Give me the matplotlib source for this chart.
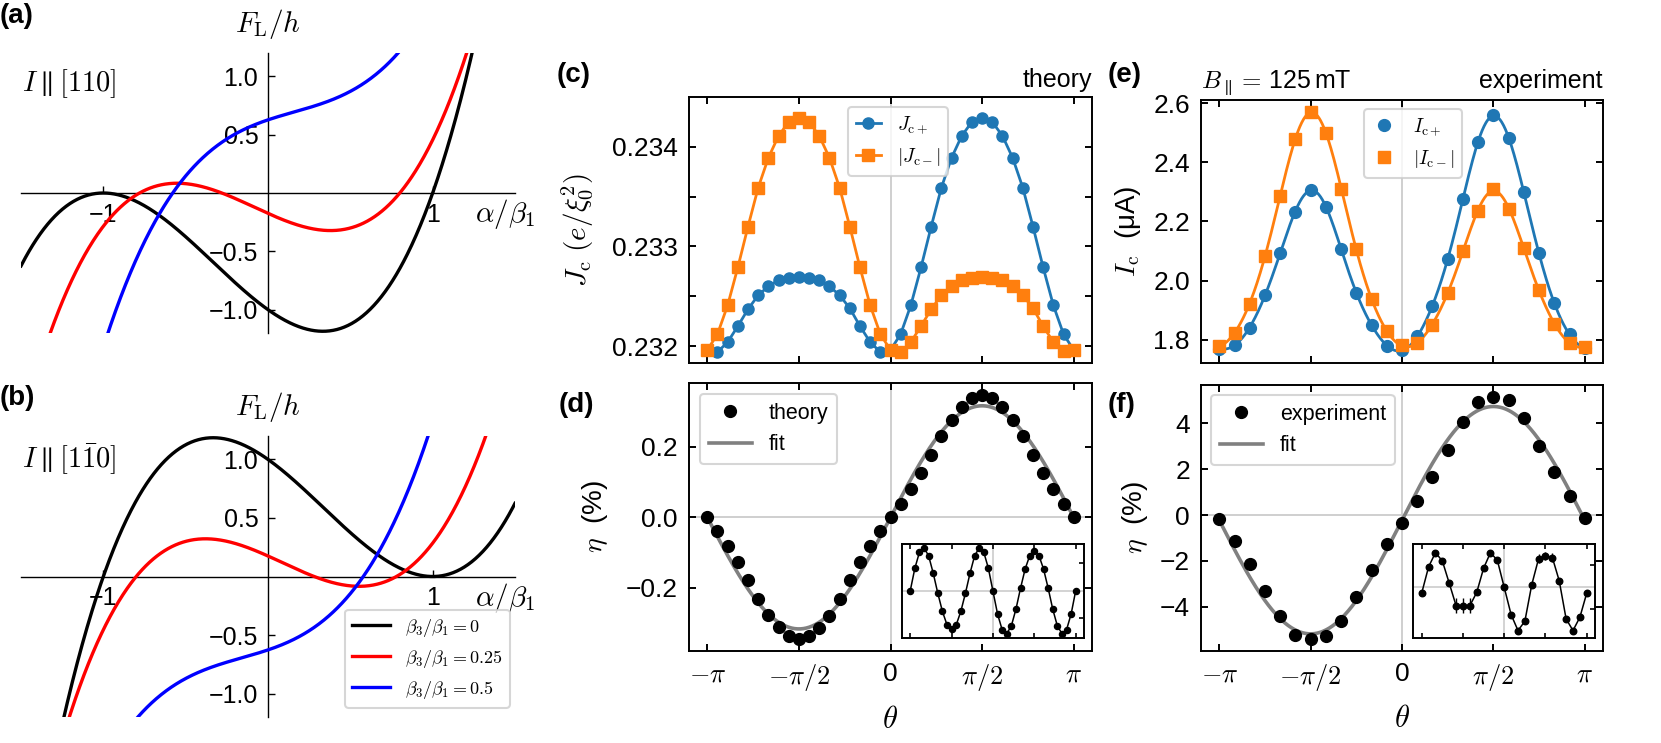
import numpy as np
import matplotlib
matplotlib.use("Agg")
import matplotlib.pyplot as plt
from matplotlib.lines import Line2D

plt.rcParams['font.family'] = ['Liberation Sans', 'DejaVu Sans']
plt.rcParams['mathtext.fontset'] = 'cm'
plt.rcParams['axes.unicode_minus'] = True

# ---------------- data ----------------
# (a),(b): Landau free energy curves, cubic coefficients [a3, a2, a1, a0] in alpha/beta1
ratio_labels = [r'$\beta_3/\beta_1=0$', r'$\beta_3/\beta_1=0.25$', r'$\beta_3/\beta_1=0.5$']
coef_a_black = [1.0, 1.0, -1.0, -1.0]
coef_a_red = [1.0, 0.26, -0.63, -0.175]
coef_a_blue = [1.0, -0.473, 0.475, 0.627]
coef_b_black = [1.0, -1.0, -1.0, 1.0]
coef_b_red = [1.0, -0.26, -0.63, 0.175]
coef_b_blue = [1.0, 0.473, 0.475, -0.627]

# (c),(d): theory, theta in degrees
theta_theory_deg = [-180, -170, -160, -150, -140, -130, -120, -110, -100, -90,
                    -80, -70, -60, -50, -40, -30, -20, -10, 0, 10, 20, 30, 40,
                    50, 60, 70, 80, 90, 100, 110, 120, 130, 140, 150, 160, 170, 180]
Jc_plus = [0.23196, 0.23194, 0.23204, 0.23220, 0.23237, 0.23251, 0.23260, 0.23266,
           0.23268, 0.23269, 0.23268, 0.23266, 0.23260, 0.23251, 0.23238, 0.23220,
           0.23204, 0.23194, 0.23196, 0.23212, 0.23241, 0.23279, 0.23320, 0.23359,
           0.23389, 0.23411, 0.23425, 0.23429, 0.23425, 0.23411, 0.23389, 0.23359,
           0.23320, 0.23279, 0.23241, 0.23212, 0.23196]
Jc_minus = [0.23196, 0.23212, 0.23241, 0.23279, 0.23320, 0.23359, 0.23389, 0.23411,
            0.23425, 0.23429, 0.23425, 0.23411, 0.23389, 0.23359, 0.23320, 0.23279,
            0.23241, 0.23212, 0.23196, 0.23194, 0.23204, 0.23220, 0.23237, 0.23251,
            0.23260, 0.23266, 0.23268, 0.23269, 0.23268, 0.23266, 0.23260, 0.23251,
            0.23238, 0.23220, 0.23204, 0.23195, 0.23196]
eta_theory = [0.000, -0.039, -0.080, -0.127, -0.178, -0.231, -0.277, -0.311, -0.337,
              -0.344, -0.337, -0.312, -0.278, -0.231, -0.177, -0.127, -0.080, -0.039,
              0.000, 0.038, 0.079, 0.125, 0.176, 0.229, 0.276, 0.313, 0.337, 0.346,
              0.337, 0.313, 0.276, 0.229, 0.176, 0.125, 0.079, 0.038, 0.000]
fit_theory = [0.316, 0.0]          # amplitude, offset of eta = A sin(theta) + c
resid_theory = [0.0, 0.0162, 0.0278, 0.0310, 0.0252, 0.0126, -0.0019, -0.0150, -0.0247,
                -0.0278, -0.0247, -0.0150, -0.0019, 0.0126, 0.0252, 0.0310, 0.0278,
                0.0162, -0.0005, -0.0169, -0.0283, -0.0310, -0.0254, -0.0133, 0.0019,
                0.0157, 0.0254, 0.0286, 0.0254, 0.0157, 0.0019, -0.0133, -0.0254,
                -0.0310, -0.0283, -0.0169, 0.0]

# (e),(f): experiment
theta_exp_deg = [-180, -165, -150, -135, -120, -105, -90, -75, -60, -45, -30, -15, 0,
                 15, 30, 45, 60, 75, 90, 105, 120, 135, 150, 165, 180]
Ic_plus = [1.770, 1.783, 1.839, 1.951, 2.093, 2.233, 2.307, 2.249, 2.107, 1.959, 1.850,
           1.779, 1.764, 1.811, 1.914, 2.073, 2.276, 2.468, 2.559, 2.483, 2.298, 2.092,
           1.923, 1.818, 1.772]
Ic_minus = [1.778, 1.823, 1.922, 2.083, 2.287, 2.478, 2.570, 2.500, 2.311, 2.107, 1.937,
            1.828, 1.781, 1.789, 1.851, 1.959, 2.100, 2.234, 2.309, 2.242, 2.109, 1.968,
            1.853, 1.789, 1.776]
eta_exp = [-0.15, -1.12, -2.15, -3.31, -4.42, -5.21, -5.40, -5.26, -4.63, -3.58, -2.38,
           -1.28, -0.36, 0.63, 1.65, 2.82, 4.06, 4.93, 5.15, 5.04, 4.23, 3.02, 1.90,
           0.83, -0.12]
fit_exp = [4.96, -0.22]
resid_exp = [-0.144, 0.455, 0.780, 0.591, 0.083, -0.432, -0.432, -0.432, -0.129, 0.424,
             0.780, 0.606, -0.015, -0.636, -1.000, -0.788, 0.045, 0.644, 0.705, 0.667,
             0.136, -0.735, -1.000, -0.697, -0.144]
resid_exp_err = [0, 0, 0, 0, 0, 0.17, 0.17, 0.17, 0, 0, 0, 0, 0, 0, 0, 0, 0, 0.10,
                 0.10, 0.10, 0, 0, 0, 0, 0]

pi_ticks_labels = [r'$-\pi$', r'$-\pi/2$', '0', r'$\pi/2$', r'$\pi$']

# ---------------- figure ----------------
W, H = 1661, 743
fig = plt.figure(figsize=(W / 100, H / 100), dpi=100)


def rect(l, t, r, b):
    return [l / W, 1 - b / H, (r - l) / W, (b - t) / H]


C_BLUE = '#1f77b4'
C_ORANGE = '#ff7f0e'
GRID = '#cccccc'
TICK_FS = 19


def landau(ax, coefs, ilabel):
    x = np.linspace(-1.5, 1.5, 800)
    for coef, col in zip(coefs, ['black', 'red', 'blue']):
        ax.plot(x, np.polyval(coef, x), color=col, lw=2.4, zorder=3)
    ax.set_xlim(-1.5, 1.5)
    ax.set_ylim(-1.2, 1.2)
    for s in ['top', 'right']:
        ax.spines[s].set_visible(False)
    for s in ['left', 'bottom']:
        ax.spines[s].set_position(('data', 0))
        ax.spines[s].set_linewidth(1.0)
    ax.set_xticks([-1, 1])
    ax.set_xticklabels(['\u22121', '1'])
    ax.set_yticks([-1, -0.5, 0.5, 1])
    ax.set_yticklabels(['\u22121.0', '\u22120.5', '0.5', '1.0'])
    ax.tick_params(direction='in', length=5, width=1.0, labelsize=18, pad=7)
    ax.patch.set_alpha(0)
    ax.text(0.5, 1.076, r'$F_\mathrm{L}/h$', transform=ax.transAxes, ha='center',
            va='baseline', fontsize=21)
    ax.text(1.255, -0.252, r'$\alpha/\beta_1$', ha='left', va='baseline', fontsize=21,
            clip_on=False)
    ax.text(0.0, 1.0, ilabel, transform=ax.transAxes, ha='left', va='top', fontsize=20.5)


axa = fig.add_axes(rect(21, 53, 515, 333))
landau(axa, [coef_a_black, coef_a_red, coef_a_blue], r'$I\parallel[110]$')
axa.texts[-1].set_position((0.002, 0.95))

axb = fig.add_axes(rect(21, 436, 515, 717))
landau(axb, [coef_b_black, coef_b_red, coef_b_blue], r'$I\parallel[1\bar{1}0]$')
axb.texts[-1].set_position((0.002, 0.98))
hb = [Line2D([], [], color=c, lw=2.4) for c in ['black', 'red', 'blue']]
leg = axb.legend(hb, ratio_labels, loc='lower left', bbox_to_anchor=(345 / W, 1 - 708 / H),
                 bbox_transform=fig.transFigure, borderaxespad=0, fontsize=13,
                 handlelength=2.1)
leg.get_frame().set_linewidth(1.5)


def box_style(ax):
    for s in ax.spines.values():
        s.set_linewidth(1.4)
    ax.tick_params(direction='in', top=True, right=True, length=5, width=1.4,
                   labelsize=TICK_FS, pad=8)
    ax.set_xticks([-np.pi, -np.pi / 2, 0, np.pi / 2, np.pi])


def fourier_curve(theta, y, nh=7, n=600):
    th = np.asarray(theta)[:-1]
    yy = np.asarray(y)[:-1]
    cols = [np.ones_like(th)]
    for k in range(1, nh + 1):
        cols += [np.cos(k * th), np.sin(k * th)]
    c, *_ = np.linalg.lstsq(np.column_stack(cols), yy, rcond=None)
    t = np.linspace(-np.pi, np.pi, n)
    cols = [np.ones_like(t)]
    for k in range(1, nh + 1):
        cols += [np.cos(k * t), np.sin(k * t)]
    return t, np.column_stack(cols) @ c


th_t = np.deg2rad(theta_theory_deg)
th_e = np.deg2rad(theta_exp_deg)

# (c)
axc = fig.add_axes(rect(689, 97, 1092, 363))
box_style(axc)
axc.axvline(0, color=GRID, lw=1.3, zorder=0)
axc.plot(th_t, Jc_plus, '-o', color=C_BLUE, lw=2.0, ms=8, label=r'$J_{\mathrm{c}+}$')
axc.plot(th_t, Jc_minus, '-s', color=C_ORANGE, lw=2.0, ms=8, label=r'$|J_{\mathrm{c}-}|$')
axc.set_yticks([0.232, 0.2325, 0.233, 0.2335, 0.234])
axc.set_yticklabels(['0.232', '', '0.233', '', '0.234'])
axc.set_ylim(0.23183, 0.2345)
axc.set_xticklabels([])
axc.set_ylabel(r'$J_\mathrm{c}\ (e/\xi_0^2)$', fontsize=21)
axc.yaxis.set_label_coords(-0.233, 0.5)
leg = axc.legend(loc='upper left', bbox_to_anchor=(848 / W, 1 - 107 / H),
                 bbox_transform=fig.transFigure, borderaxespad=0, fontsize=14,
                 handlelength=1.3)
leg.get_frame().set_linewidth(1.5)
axc.text(1.0, 1.039, 'theory', transform=axc.transAxes, ha='right', va='baseline',
         fontsize=18)

# (d)
axd = fig.add_axes(rect(689, 383, 1092, 651))
box_style(axd)
axd.axvline(0, color=GRID, lw=1.3, zorder=0)
axd.axhline(0, color=GRID, lw=1.3, zorder=0)
tt = np.linspace(-np.pi, np.pi, 500)
lf, = axd.plot(tt, fit_theory[0] * np.sin(tt) + fit_theory[1], color='#808080', lw=2.6,
               zorder=2)
lp, = axd.plot(th_t, eta_theory, 'o', color='black', ms=8.5, zorder=3)
axd.set_yticks([-0.2, 0.0, 0.2])
axd.set_xticklabels(pi_ticks_labels)
axd.set_ylabel(r'$\eta$  (%)', fontsize=20)
axd.yaxis.set_label_coords(-0.196, 0.5)
axd.set_xlabel(r'$\theta$', fontsize=22)
axd.xaxis.set_label_coords(0.5, -0.2)
leg = axd.legend([lp, lf], ['theory', 'fit'], loc='upper left',
                 bbox_to_anchor=(700 / W, 1 - 394 / H), bbox_transform=fig.transFigure,
                 borderaxespad=0, fontsize=15.5)
leg.get_frame().set_linewidth(1.5)

insd = axd.inset_axes([0.5285, 0.049, 0.4516, 0.352])
insd.axvline(0, color=GRID, lw=1.2, zorder=0)
insd.axhline(0, color=GRID, lw=1.2, zorder=0)
insd.plot(th_t, resid_theory, '-o', color='black', lw=1.1, ms=4.4)
for s in insd.spines.values():
    s.set_linewidth(1.4)
insd.set_xticks([-np.pi, -np.pi / 2, 0, np.pi / 2, np.pi])
insd.set_yticks([-0.02, 0.02])
insd.tick_params(direction='in', top=True, bottom=True, left=False, right=True,
                 labelleft=False, labelbottom=False, length=3.5, width=1.2)

# (e)
axe = fig.add_axes(rect(1201, 100, 1603, 363))
box_style(axe)
axe.axvline(0, color=GRID, lw=1.3, zorder=0)
te, ype = fourier_curve(th_e, Ic_plus)
tm, ymm = fourier_curve(th_e, Ic_minus)
axe.plot(te, ype, color=C_BLUE, lw=2.0, zorder=2)
axe.plot(tm, ymm, color=C_ORANGE, lw=2.0, zorder=2)
axe.plot(th_e, Ic_plus, 'o', color=C_BLUE, ms=8.5, zorder=3, label=r'$I_{\mathrm{c}+}$')
axe.plot(th_e, Ic_minus, 's', color=C_ORANGE, ms=8.5, zorder=3,
         label=r'$|I_{\mathrm{c}-}|$')
axe.set_yticks([1.8, 2.0, 2.2, 2.4, 2.6])
axe.set_xticklabels([])
axe.set_ylabel(r'$I_\mathrm{c}$  (μA)', fontsize=20)
axe.yaxis.set_label_coords(-0.144, 0.5)
leg = axe.legend(loc='upper left', bbox_to_anchor=(1364 / W, 1 - 109 / H),
                 bbox_transform=fig.transFigure, borderaxespad=0, fontsize=14,
                 handlelength=1.3)
leg.get_frame().set_linewidth(1.5)
axe.text(1.0, 1.047, 'experiment', transform=axe.transAxes, ha='right', va='baseline',
         fontsize=18)
axe.text(0.0, 1.047, r'$B_{\parallel}=\,$125$\,$mT', transform=axe.transAxes, ha='left',
         va='baseline', fontsize=18)

# (f)
axf = fig.add_axes(rect(1201, 385, 1603, 651))
box_style(axf)
axf.axvline(0, color=GRID, lw=1.3, zorder=0)
axf.axhline(0, color=GRID, lw=1.3, zorder=0)
lf2, = axf.plot(tt, fit_exp[0] * np.sin(tt) + fit_exp[1], color='#808080', lw=2.6,
                zorder=2)
lp2, = axf.plot(th_e, eta_exp, 'o', color='black', ms=8.5, zorder=3)
axf.set_yticks([-4, -2, 0, 2, 4])
axf.set_xticklabels(pi_ticks_labels)
axf.set_ylabel(r'$\eta$  (%)', fontsize=20)
axf.yaxis.set_label_coords(-0.127, 0.5)
axf.set_xlabel(r'$\theta$', fontsize=22)
axf.xaxis.set_label_coords(0.5, -0.198)
leg = axf.legend([lp2, lf2], ['experiment', 'fit'], loc='upper left',
                 bbox_to_anchor=(1211 / W, 1 - 395 / H), bbox_transform=fig.transFigure,
                 borderaxespad=0, fontsize=15.5)
leg.get_frame().set_linewidth(1.5)

insf = axf.inset_axes([0.5285, 0.049, 0.4516, 0.352])
insf.axvline(0, color=GRID, lw=1.2, zorder=0)
insf.axhline(0, color=GRID, lw=1.2, zorder=0)
insf.errorbar(th_e, resid_exp, yerr=resid_exp_err, fmt='-o', color='black', lw=1.1,
              ms=4.7, elinewidth=1.0, capsize=0)
for s in insf.spines.values():
    s.set_linewidth(1.4)
insf.set_xticks([-np.pi, -np.pi / 2, 0, np.pi / 2, np.pi])
insf.set_yticks([-0.5, 0.5])
insf.set_ylim(-1.17, 0.97)
insf.tick_params(direction='in', top=True, bottom=True, left=False, right=True,
                 labelleft=False, labelbottom=False, length=3.5, width=1.2)

# panel labels
for lab, x, y in [('(a)', 0, 3), ('(b)', 0, 385), ('(c)', 557, 62), ('(d)', 559, 392),
                  ('(e)', 1108, 62), ('(f)', 1108, 392)]:
    fig.text(x / W, 1 - y / H, lab, ha='left', va='top', fontsize=20, fontweight='bold')

fig.savefig('out.png', dpi=100)
